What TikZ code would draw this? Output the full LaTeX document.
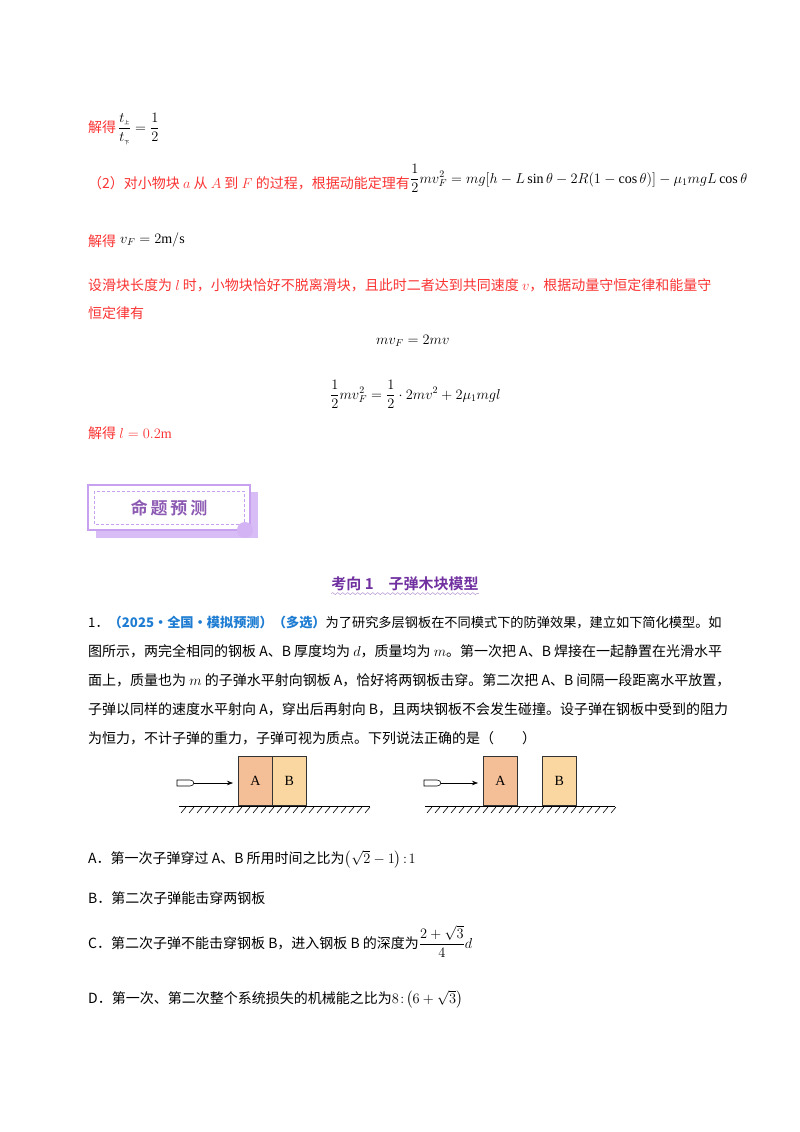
\documentclass[tikz,border=0pt]{standalone}
\usepackage{fontspec}
\usepackage{amsmath}
\setmainfont{Liberation Serif}
\newfontfamily\cjk{Noto Sans CJK SC}
\newfontfamily\cjkb{Noto Sans CJK SC}[BoldFont={* Bold}]
\usetikzlibrary{decorations.pathmorphing,patterns,arrows.meta,calc}
\definecolor{myred}{RGB}{250,50,50}
\definecolor{myblue}{RGB}{30,125,210}
\definecolor{mypurple}{RGB}{112,48,160}
\definecolor{lpurple}{RGB}{200,160,240}
\definecolor{blockA}{RGB}{244,190,150}
\definecolor{blockB}{RGB}{250,215,160}
\begin{document}
\begin{tikzpicture}[x=1pt,y=-1pt,
  txt/.style={anchor=base west,inner sep=0pt,font=\fontsize{14}{16}\cjk},
  rtxt/.style={txt,text=myred},
  mth/.style={anchor=base west,inner sep=0pt,font=\fontsize{14}{16}\selectfont},
  blk/.style={draw=black!80,line width=0.8pt,minimum width=34pt,minimum height=49pt,anchor=south west,inner sep=0pt,font=\fontsize{14}{16}\selectfont}]
\useasboundingbox (0,0) rectangle (800,1132);
% top red solution
\node[rtxt] (t1) at (88,132) {解得};
\node[mth] (f1) at (118,132) {$\dfrac{t_{\text{\cjk\tiny 上}}}{t_{\text{\cjk\tiny 下}}}=\dfrac{1}{2}$};
\node[rtxt] (t2) at (88,188) {（2）对小物块 $a$ 从 $A$ 到 $F$ 的过程，根据动能定理有};
\node[mth] (f2) at (410,183) {$\dfrac12 mv_F^2=mg[h-L\sin\theta-2R(1-\cos\theta)]-\mu_1 mgL\cos\theta$};
\node[rtxt] (t3) at (88,246) {解得};
\node[mth] (f3) at (120,243) {$v_F=2\mathrm{m/s}$};
\node[rtxt] (t4) at (88,290) {设滑块长度为 $l$ 时，小物块恰好不脱离滑块，且此时二者达到共同速度 $v$，根据动量守恒定律和能量守};
\node[rtxt] (t5) at (88,318) {恒定律有};
\node[mth] (f4) at (376,344) {$mv_F=2mv$};
\node[mth] (f5) at (330,399) {$\dfrac12 mv_F^2=\dfrac12\cdot 2mv^2+2\mu_1 mgl$};
\node[rtxt] (t6) at (88,438) {解得 $l=0.2\mathrm{m}$};
% badge
\fill[lpurple!70] (96,492) rectangle (258,538);
\draw[lpurple,line width=1.5pt,fill=white] (88,485) rectangle (250,530);
\draw[lpurple,densely dashed] (94,491) rectangle (244,524);
\node[inner sep=0pt,font=\fontsize{17}{19}\cjkb\bfseries,text=mypurple!80] (badge) at (169,508) {命\,题\,预\,测};
\fill[lpurple!80] (245,530) circle (8pt);
% heading
\node[inner sep=0pt,anchor=base,font=\fontsize{15}{17}\cjkb\bfseries,text=mypurple] (head) at (405,589) {考向 1\quad 子弹木块模型};
\draw[mypurple!60,decorate,decoration={snake,amplitude=1pt,segment length=5pt}] ($(head.south west)+(0,3)$) -- ($(head.south east)+(0,3)$);
% question
\node[txt,font=\fontsize{13.2}{16}\cjk] (q1) at (88,627) {1．\textcolor{myblue}{\bfseries（2025·全国·模拟预测）（多选）}为了研究多层钢板在不同模式下的防弹效果，建立如下简化模型。如};
\node[txt] (q2) at (88,656) {图所示，两完全相同的钢板 A、B 厚度均为 $d$，质量均为 $m$。第一次把 A、B 焊接在一起静置在光滑水平};
\node[txt] (q3) at (88,685) {面上，质量也为 $m$ 的子弹水平射向钢板 A，恰好将两钢板击穿。第二次把 A、B 间隔一段距离水平放置，};
\node[txt] (q4) at (88,714) {子弹以同样的速度水平射向 A，穿出后再射向 B，且两块钢板不会发生碰撞。设子弹在钢板中受到的阻力};
\node[txt] (q5) at (88,743) {为恒力，不计子弹的重力，子弹可视为质点。下列说法正确的是（\qquad ）};
% figure left
\draw[line width=0.8pt] (179,806) -- (370,806);
\foreach \i in {0,...,23} \draw[line width=0.6pt] ({181+8*\i},813) -- ({186+8*\i},807);
\node[blk,fill=blockA] (A1) at (238,806) {A};
\node[blk,fill=blockB] (B1) at (272,806) {B};
\draw[line width=0.6pt] (177,780) -- (190,780) .. controls (195,780) and (195,786) .. (190,786) -- (177,786) -- cycle;
\coordinate (b1) at (194,783);
\draw[line width=0.6pt,-{Stealth[length=6pt]},shorten >=5pt] (b1) -- (A1.west |- b1);
% figure right
\draw[line width=0.8pt] (425,806) -- (615,806);
\foreach \i in {0,...,23} \draw[line width=0.6pt] ({427+8*\i},813) -- ({432+8*\i},807);
\node[blk,fill=blockA] (A2) at (483,806) {A};
\node[blk,fill=blockB] (B2) at (542,806) {B};
\draw[line width=0.6pt] (424,780) -- (437,780) .. controls (442,780) and (442,786) .. (437,786) -- (424,786) -- cycle;
\coordinate (b2) at (441,783);
\draw[line width=0.6pt,-{Stealth[length=6pt]},shorten >=5pt] (b2) -- (A2.west |- b2);
% options
\node[txt] (oA) at (88,863) {A．第一次子弹穿过 A、B 所用时间之比为$\left(\sqrt{2}-1\right)\!:\!1$};
\node[txt] (oB) at (88,903) {B．第二次子弹能击穿两钢板};
\node[txt] (oC) at (88,948) {C．第二次子弹不能击穿钢板 B，进入钢板 B 的深度为$\dfrac{2+\sqrt3}{4}d$};
\node[txt] (oD) at (88,1003) {D．第一次、第二次整个系统损失的机械能之比为$8\!:\!\left(6+\sqrt3\right)$};
\end{tikzpicture}
\end{document}
